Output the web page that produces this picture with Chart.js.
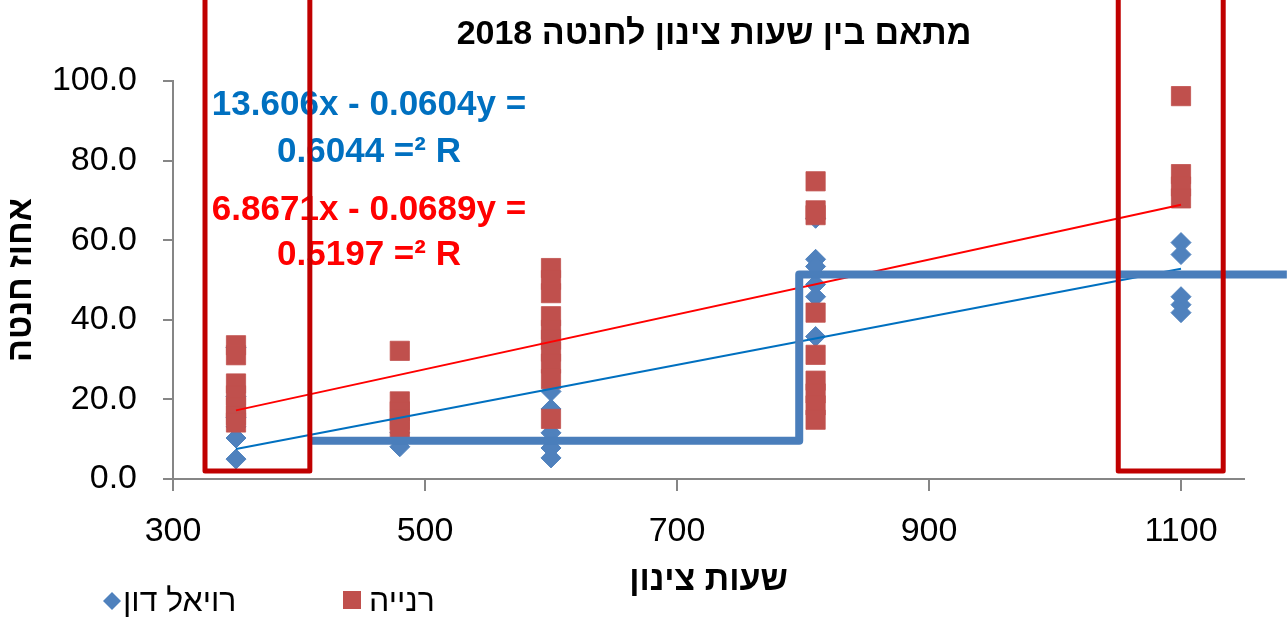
<!DOCTYPE html>
<html lang="he">
<head>
<meta charset="utf-8">
<title>מתאם בין שעות צינון לחנטה 2018</title>
<script src="https://cdn.jsdelivr.net/npm/chart.js@4.4.1/dist/chart.umd.min.js"></script>
<style>
  html, body { margin: 0; padding: 0; background: #fff; }
  #wrap { width: 1288px; height: 620px; position: relative; }
</style>
</head>
<body>
<div id="wrap"><canvas id="chart"></canvas></div>
<script>
// chill hours (x) and fruit-set % per variety, grouped by chill hours
const chillHours = [350, 480, 600, 810, 1100];
const royalDonSet = [
  [33, 20.7, 15.4, 13.1, 10.3, 5.0],
  [11.6, 8.1],
  [22, 17.6, 11.6, 9.5, 7.8, 5.3],
  [65.5, 55.2, 53.4, 48.9, 45.8, 35.8],
  [59.4, 56.4, 45.8, 43.8, 41.8]
];
const raniaSet = [
  [33.6, 31.1, 24, 21, 18, 16, 14.2],
  [32.2, 19.5, 17, 14.8, 12.7],
  [53, 50, 46.7, 40.9, 37.5, 35, 32, 29, 25.1, 15.1],
  [74.8, 67.5, 66.3, 41.8, 31.2, 24.7, 21.5, 18.5, 14.9],
  [96.2, 76.6, 73.5, 70.5]
];

// linear trendlines as printed on the chart: [slope, intercept]
const royalDonTrend = [0.0604, -13.606];
const raniaTrend = [0.0689, -6.8671];
const trendRange = [350, 1100];

// hand-drawn step line and highlight boxes (data units)
const stepHours = [408.6, 797, 797, 1184];
const stepValues = [9.6, 9.6, 51.4, 51.4];
const boxHours = [[325.4, 408.6], [1050.2, 1133.5]];
const boxValues = [2, 125];

const xTicks = [300, 500, 700, 900, 1100];
const yTicks = [0, 20, 40, 60, 80, 100];

const titleText = 'מתאם בין שעות צינון לחנטה 2018';
const seriesNames = ['רויאל דון', 'רנייה'];
const equations = [
  ['13.606x - 0.0604y =', '0.6044 =² R'],
  ['6.8671x - 0.0689y =', '0.5197 =² R']
];

const BLUE = '#4F81BD';
const RED = '#C0504D';
const AXIS = '#868686';
const FONT = '"Liberation Sans", Arial, sans-serif';

const toPoints = sets => sets.flatMap((vals, i) => vals.map(v => ({ x: chillHours[i], y: v })));
const trendPoints = t => trendRange.map(h => ({ x: h, y: t[0] * h + t[1] }));

const overlay = {
  id: 'overlay',
  afterDatasetsDraw(chart) {
    const { ctx, chartArea, scales: { x, y } } = chart;
    ctx.save();
    // trendline equations
    ctx.font = 'bold 35px ' + FONT;
    ctx.textAlign = 'center';
    ctx.textBaseline = 'middle';
    ctx.direction = 'ltr';
    const eqX = chartArea.left + 196;
    const eqY = [[105, 152], [210, 255]];
    ['#0070C0', '#FF0000'].forEach((c, i) => {
      ctx.fillStyle = c;
      ctx.fillText(equations[i][0], eqX, eqY[i][0]);
      ctx.fillText(equations[i][1], eqX, eqY[i][1]);
    });
    // red highlight boxes
    ctx.strokeStyle = '#C00000';
    ctx.lineWidth = 5;
    ctx.lineJoin = 'round';
    boxHours.forEach(([a, b]) => {
      const l = x.getPixelForValue(a), r = x.getPixelForValue(b);
      const t = y.getPixelForValue(boxValues[1]), bt = y.getPixelForValue(boxValues[0]);
      ctx.strokeRect(l, t, r - l, bt - t);
    });
    ctx.restore();
  },
  afterDraw(chart) {
    const { ctx } = chart;
    ctx.save();
    ctx.fillStyle = '#000';
    ctx.direction = 'rtl';
    ctx.textAlign = 'center';
    ctx.textBaseline = 'middle';
    ctx.font = 'bold 34px ' + FONT;
    ctx.fillText(titleText, 714, 35);

    // legend
    ctx.font = '32px ' + FONT;
    ctx.textAlign = 'left';
    ctx.fillStyle = BLUE;
    ctx.beginPath();
    ctx.moveTo(112, 592); ctx.lineTo(121, 601); ctx.lineTo(112, 610); ctx.lineTo(103, 601);
    ctx.closePath(); ctx.fill();
    ctx.fillStyle = '#000';
    ctx.fillText(seriesNames[0], 123, 602);
    ctx.fillStyle = RED;
    ctx.fillRect(343, 591, 18, 18);
    ctx.fillStyle = '#000';
    ctx.fillText(seriesNames[1], 369, 602);
    ctx.restore();
  }
};

const axisGrid = len => ({ display: true, drawOnChartArea: false, drawTicks: true, tickLength: len, color: AXIS, lineWidth: 2 });

new Chart(document.getElementById('chart'), {
  type: 'scatter',
  data: {
    datasets: [
      {
        label: seriesNames[0],
        data: toPoints(royalDonSet),
        pointStyle: 'rectRot', pointRadius: 10,
        backgroundColor: BLUE, borderColor: BLUE, borderWidth: 1,
        order: 5
      },
      {
        label: seriesNames[1],
        data: toPoints(raniaSet),
        pointStyle: 'rect', pointRadius: 13.6,
        backgroundColor: RED, borderColor: 'rgba(192,80,77,0.8)', borderWidth: 1,
        order: 4
      },
      {
        label: 'trend ' + seriesNames[0],
        data: trendPoints(royalDonTrend),
        showLine: true, pointRadius: 0, borderColor: '#0070C0', borderWidth: 2,
        order: 3
      },
      {
        label: 'trend ' + seriesNames[1],
        data: trendPoints(raniaTrend),
        showLine: true, pointRadius: 0, borderColor: '#FF0000', borderWidth: 2,
        order: 2
      },
      {
        label: 'step',
        data: stepHours.map((h, i) => ({ x: h, y: stepValues[i] })),
        showLine: true, pointRadius: 0, borderColor: '#4A7EBB', borderWidth: 8,
        borderJoinStyle: 'round', clip: false,
        order: 1
      }
    ]
  },
  options: {
    responsive: true,
    maintainAspectRatio: false,
    animation: false,
    layout: { padding: { top: 81, right: 44, bottom: 19, left: 0 } },
    plugins: { legend: { display: false }, tooltip: { enabled: false } },
    scales: {
      x: {
        type: 'linear', min: 300, max: 1150,
        afterBuildTicks: s => { s.ticks = xTicks.map(v => ({ value: v })); },
        afterFit: s => { s.height = 122; },
        grid: axisGrid(12),
        border: { display: true, color: AXIS, width: 2 },
        ticks: { color: '#000', padding: 20, font: { family: FONT, size: 34 }, callback: v => String(v) },
        title: { display: true, text: 'שעות צינון', color: '#000', padding: 0, font: { family: FONT, size: 34, weight: 'bold' } }
      },
      y: {
        min: 0, max: 100,
        afterBuildTicks: s => { s.ticks = yTicks.map(v => ({ value: v })); },
        afterFit: s => { s.width = 173; },
        grid: axisGrid(10),
        border: { display: true, color: AXIS, width: 2 },
        ticks: { color: '#000', padding: 26, font: { family: FONT, size: 34 }, callback: v => v.toFixed(1) },
        title: { display: true, text: 'אחוז חנטה', color: '#000', padding: { top: 1, bottom: 0 }, font: { family: FONT, size: 34, weight: 'bold' } }
      }
    }
  },
  plugins: [overlay]
});
</script>
</body>
</html>
